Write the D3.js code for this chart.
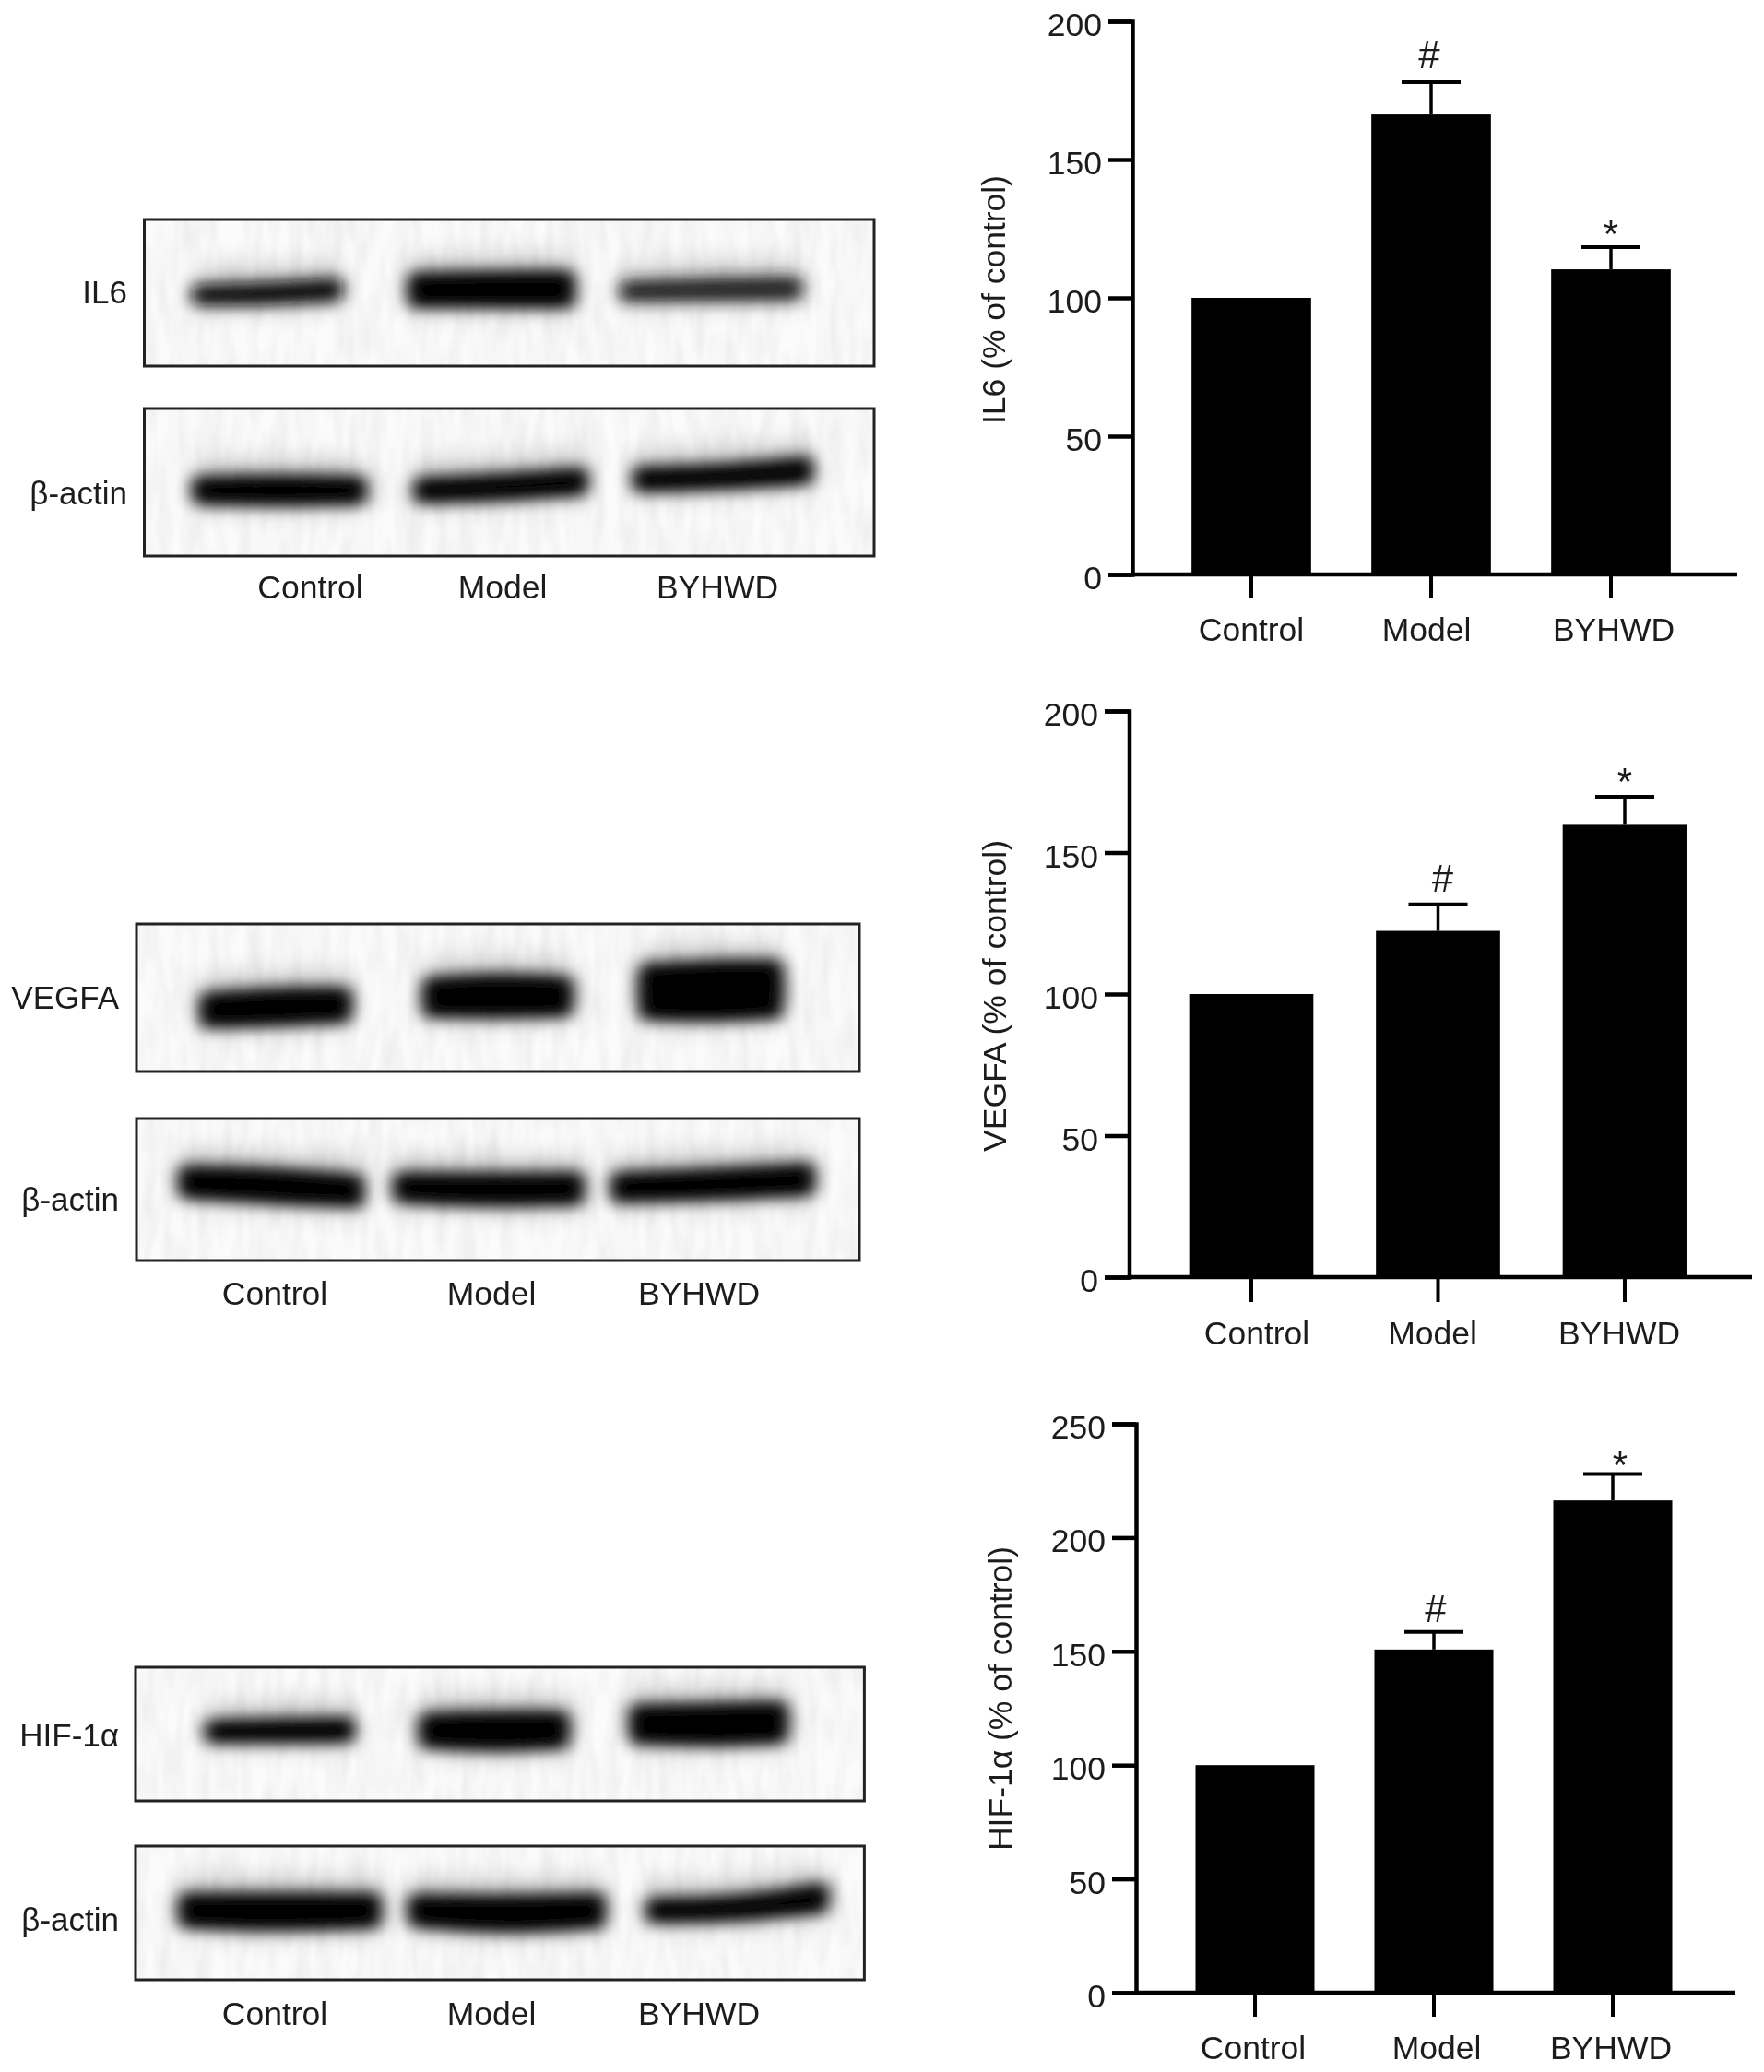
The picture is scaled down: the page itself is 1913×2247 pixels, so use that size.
<!DOCTYPE html>
<html><head><meta charset="utf-8">
<script src="https://cdn.jsdelivr.net/npm/d3@7"></script>
<style>
html,body{margin:0;padding:0;background:#fff}
svg{display:block}
text{font-family:"Liberation Sans",Arial,sans-serif;fill:#1c1c1c}
</style></head><body><svg id="c" width="1913" height="2247"></svg>
<script>
// ---- data ----
const categories = ["Control","Model","BYHWD"];
const il6Values = [100,166.3,110.3];
const il6Upper  = [null,178,118.3];
const il6Ticks  = [0,50,100,150,200];
const vegfaValues = [100,122.3,159.8];
const vegfaUpper  = [null,131.7,169.7];
const vegfaTicks  = [0,50,100,150,200];
const hifValues = [100,150.8,216.3];
const hifUpper  = [null,158.5,227.9];
const hifTicks  = [0,50,100,150,200,250];
const significance = [null,"#","*"];

// ---- layout of the three bar panels ----
const barPanels = [
 {title:"IL6 (% of control)",values:il6Values,upper:il6Upper,ticks:il6Ticks,max:200,
  axisX:1228,top:23,bottom:623,left:1202,right:1884,c0:1357,c2:1747,tickEnd:25,labelY:695,
  labelDx:[0,-5,3],markDx:[0,-2,0],markGap:[0,30,24],titleX:1079,titleY:325,titleLen:270,capW:64},
 {title:"VEGFA (% of control)",values:vegfaValues,upper:vegfaUpper,ticks:vegfaTicks,max:200,
  axisX:1224.5,top:771,bottom:1385,left:1198,right:1900,c0:1357,c2:1762,tickEnd:27,labelY:1458,
  labelDx:[6,-6,-6],markDx:[0,5,0],markGap:[0,29,26],titleX:1080,titleY:1080,titleLen:338,capW:64},
 {title:"HIF-1α (% of control)",values:hifValues,upper:hifUpper,ticks:hifTicks,max:250,
  axisX:1232,top:1544,bottom:2161,left:1206,right:1882,c0:1361,c2:1749,tickEnd:26,labelY:2233,
  labelDx:[-2,3,-2],markDx:[0,2,8],markGap:[0,26,20],titleX:1086,titleY:1842,titleLen:330,capW:64}
];

// ---- layout of the western-blot images ----
const blotNames = ["IL6","β-actin","VEGFA","β-actin","HIF-1α","β-actin"];
const blotPanels = [
 {name:0,x:156.5,y:238,w:791.5,h:159,labelX:138,labelY:316,bands:[
  {pts:[[212,320,9],[290,319,10],[368,314,10]],g:15},
  {pts:[[446,315,15],[530,314,16],[620,314,16]],g:0},
  {pts:[[676,316,9],[770,314,10],[866,313,10]],g:35}]},
 {name:1,x:156.5,y:443,w:791.5,h:160,labelX:138,labelY:534,bands:[
  {pts:[[212,532,12],[300,532,14],[394,532,12]],g:0},
  {pts:[[452,532,11],[540,529,12],[634,522,12]],g:0},
  {pts:[[690,520,11],[780,518,11],[878,510,12]],g:0}]},
 {name:2,x:148,y:1002,w:784,h:160,labelX:129,labelY:1081,bands:[
  {pts:[[220,1096,15],[300,1092,17],[378,1090,15]],g:0},
  {pts:[[462,1082,17],[540,1080,20],[618,1081,17]],g:0},
  {pts:[[696,1076,24],[770,1075,27],[846,1073,25]],g:0}]},
 {name:3,x:148,y:1213,w:784,h:154,labelX:129,labelY:1300,bands:[
  {pts:[[197,1282,14],[295,1286,16],[391,1292,14]],g:0},
  {pts:[[430,1288,13],[530,1291,15],[630,1289,14]],g:0},
  {pts:[[666,1288,13],[770,1285,14],[880,1279,14]],g:0}]},
 {name:4,x:147,y:1808,w:790.4,h:145,labelX:129,labelY:1881,bands:[
  {pts:[[226,1878,10],[303,1877,11],[381,1876,11]],g:0},
  {pts:[[458,1877,15],[536,1878,18],[614,1876,16]],g:0},
  {pts:[[686,1870,17],[768,1871,19],[851,1868,18]],g:0}]},
 {name:5,x:147,y:2002,w:790.4,h:145,labelX:129,labelY:2081,bands:[
  {pts:[[197,2072,15],[303,2074,17],[410,2072,15]],g:0},
  {pts:[[446,2072,14],[550,2077,17],[653,2072,15]],g:0},
  {pts:[[704,2072,11],[800,2071,11],[895,2058,13]],g:0}]}
];
const blotLabels = [
 {y:636,xs:[336.5,545,778]},
 {y:1402,xs:[298,533,758]},
 {y:2183,xs:[298,533,758]}
];
const bandSpread = 1.25;

const svg = d3.select("#c");
const defs = svg.append("defs");
const f1 = defs.append("filter").attr("id","core").attr("x","-30%").attr("y","-100%").attr("width","160%").attr("height","300%");
f1.append("feGaussianBlur").attr("stdDeviation","9 7.5");
const f2 = defs.append("filter").attr("id","halo").attr("x","-30%").attr("y","-200%").attr("width","160%").attr("height","500%");
f2.append("feGaussianBlur").attr("stdDeviation","11 17");
const fn = defs.append("filter").attr("id","mottle").attr("x","0").attr("y","0").attr("width","1").attr("height","1");
fn.append("feTurbulence").attr("type","fractalNoise").attr("baseFrequency","0.07 0.018").attr("numOctaves",2).attr("seed",4);
fn.append("feColorMatrix").attr("type","matrix").attr("values","0 0 0 0 0  0 0 0 0 0  0 0 0 0 0  0.3 0 0 0 -0.09");
const soft = defs.append("filter").attr("id","soft").attr("filterUnits","userSpaceOnUse").attr("x",0).attr("y",0).attr("width",1913).attr("height",2247);
soft.append("feGaussianBlur").attr("stdDeviation",0.6);

const root = svg.append("g").attr("filter","url(#soft)");
root.append("rect").attr("width",1913).attr("height",2247).attr("fill","#fff");

// ---- blots ----
const bandArea = d3.area().x(d=>d[0]).y0(d=>d[1]-d[2]*bandSpread).y1(d=>d[1]+d[2]*bandSpread).curve(d3.curveBasis);
blotPanels.forEach((p,i)=>{
  const clipId = "clip"+i;
  defs.append("clipPath").attr("id",clipId).append("rect").attr("x",p.x).attr("y",p.y).attr("width",p.w).attr("height",p.h);
  const g = root.append("g");
  g.append("rect").attr("x",p.x).attr("y",p.y).attr("width",p.w).attr("height",p.h).attr("fill","#fbfbfb");
  g.append("rect").attr("x",p.x).attr("y",p.y).attr("width",p.w).attr("height",p.h).attr("fill","#000").attr("filter","url(#mottle)").attr("opacity",0.3);
  const inner = g.append("g").attr("clip-path",`url(#${clipId})`);
  p.bands.forEach(b=>{
    const a=b.pts[0], z=b.pts[b.pts.length-1];
    const outline=[[a[0]-4,a[1],1],[a[0]-2,a[1],a[2]],[a[0],a[1],a[2]],...b.pts,[z[0],z[1],z[2]],[z[0]+2,z[1],z[2]],[z[0]+4,z[1],1]];
    inner.append("path").attr("d",bandArea(outline)).attr("fill","#000").attr("opacity",0.38)
      .attr("filter","url(#halo)").attr("transform",`translate(0,-6)`);
    inner.append("path").attr("d",bandArea(outline)).attr("fill",`rgb(${b.g},${b.g},${b.g})`).attr("filter","url(#core)");
  });
  g.append("rect").attr("x",p.x).attr("y",p.y).attr("width",p.w).attr("height",p.h)
    .attr("fill","none").attr("stroke","#222").attr("stroke-width",3);
  g.append("text").attr("x",p.labelX).attr("y",p.labelY+13).attr("text-anchor","end").attr("font-size",35).text(blotNames[p.name]);
});
blotLabels.forEach(l=>{
  root.append("g").selectAll("text").data(categories).join("text")
    .attr("x",(d,i)=>l.xs[i]).attr("y",l.y+13).attr("text-anchor","middle").attr("font-size",35.5).text(d=>d);
});

// ---- bar panels ----
barPanels.forEach(p=>{
  const step=(p.c2-p.c0)/2;
  const x=d3.scaleBand().domain(categories).range([p.c0-step/2,p.c2+step/2]).paddingInner(0.335).paddingOuter(0.1675);
  const y=d3.scaleLinear().domain([0,p.max]).range([p.bottom,p.top]);
  const g=root.append("g");

  const rows=categories.map((c,i)=>({c,i,v:p.values[i],u:p.upper[i],m:significance[i]}));
  g.selectAll("rect.bar").data(rows).join("rect").attr("class","bar")
    .attr("x",d=>x(d.c)).attr("width",x.bandwidth()).attr("y",d=>y(d.v)).attr("height",d=>y(0)-y(d.v)).attr("fill","#000");

  const errs=rows.filter(d=>d.u!==null);
  const cx=d=>x(d.c)+x.bandwidth()/2;
  g.selectAll("line.err").data(errs).join("line").attr("class","err")
    .attr("x1",cx).attr("x2",cx).attr("y1",d=>y(d.v)).attr("y2",d=>y(d.u)).attr("stroke","#000").attr("stroke-width",3.5);
  g.selectAll("line.cap").data(errs).join("line").attr("class","cap")
    .attr("x1",d=>cx(d)-p.capW/2).attr("x2",d=>cx(d)+p.capW/2).attr("y1",d=>y(d.u)).attr("y2",d=>y(d.u)).attr("stroke","#000").attr("stroke-width",4);

  g.selectAll("text.mark").data(errs).join("text").attr("class","mark")
    .attr("x",d=>cx(d)+p.markDx[d.i])
    .attr("y",d=>y(d.u)-p.markGap[d.i]+(d.m==="#"?15:24))
    .attr("text-anchor","middle").attr("font-size",42).text(d=>d.m);

  const ya=d3.axisLeft(y).tickValues(p.ticks).tickSize(p.axisX-p.left).tickPadding(7).tickFormat(d3.format("d"));
  const yg=g.append("g").attr("transform",`translate(${p.axisX},0)`).call(ya);
  yg.select(".domain").attr("stroke","#000").attr("stroke-width",4.5);
  yg.selectAll(".tick line").attr("stroke","#000").attr("stroke-width",4.5);
  yg.selectAll(".tick text").attr("font-size",35.5).attr("dy",null).attr("y",15.5).attr("fill","#1c1c1c");
  yg.attr("font-family",null).attr("font-size",null);

  const xa=d3.axisBottom(x).tickSize(p.tickEnd).tickSizeOuter(0);
  const xg=g.append("g").attr("transform",`translate(0,${p.bottom})`).call(xa);
  xg.select(".domain").remove();
  xg.attr("font-family",null).attr("font-size",null);
  xg.selectAll(".tick line").attr("stroke","#000").attr("stroke-width",4);
  xg.selectAll(".tick text").attr("font-size",35.5).attr("dy",null).attr("fill","#1c1c1c")
    .attr("y",p.labelY-p.bottom).attr("x",(d,i)=>p.labelDx[i]);

  g.append("line").attr("x1",p.axisX-2).attr("x2",p.right).attr("y1",p.bottom).attr("y2",p.bottom).attr("stroke","#000").attr("stroke-width",4.5);

  g.append("text").attr("transform",`translate(${p.titleX+11},${p.titleY}) rotate(-90)`).attr("text-anchor","middle")
    .attr("font-size",35).attr("textLength",p.titleLen).attr("lengthAdjust","spacingAndGlyphs").text(p.title);
});
</script></body></html>
